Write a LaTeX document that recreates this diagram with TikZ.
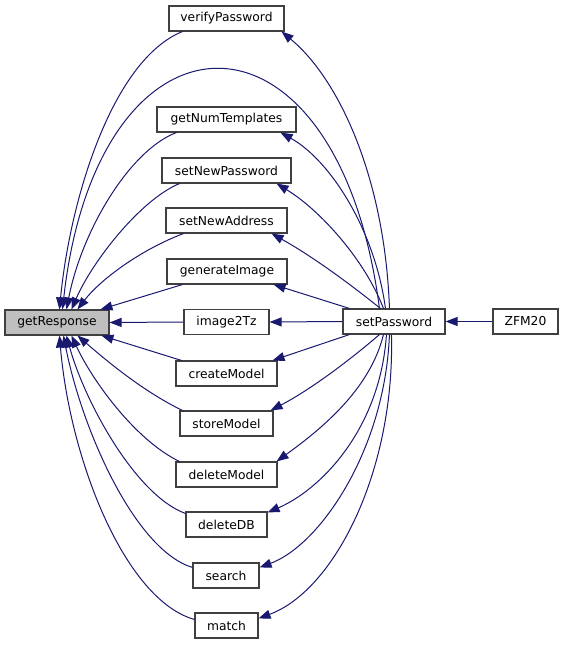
\documentclass[tikz,border=0pt]{standalone}
\usepackage{fontspec}
\setmainfont{DejaVu Sans}
\usetikzlibrary{arrows.meta,calc}
\definecolor{edgeblue}{HTML}{191970}
\definecolor{boxgray}{HTML}{BFBFBF}
\begin{document}
\begin{tikzpicture}[x=1pt,y=-1pt,
  fn/.style={draw=black!75, line width=1.1pt, fill=white, minimum height=25pt, inner sep=0pt,
             font=\fontsize{12.3}{14}\selectfont},
  call/.style={draw=edgeblue, line width=1pt, -{Triangle[length=12pt,width=9pt]}}]
\useasboundingbox (0,0) rectangle (565,645);

% nodes
\node[fn, fill=boxgray, minimum width=104pt] (gr) at (57,322.5) {getResponse};
\node[fn, minimum width=115pt] (vp)  at (226.5,18.5)  {verifyPassword};
\node[fn, minimum width=139pt] (gnt) at (226.5,119.5) {getNumTemplates};
\node[fn, minimum width=129pt] (snp) at (226.5,170.5) {setNewPassword};
\node[fn, minimum width=121pt] (sna) at (226.5,220.5) {setNewAddress};
\node[fn, minimum width=120pt] (gi)  at (227,271.5)   {generateImage};
\node[fn, minimum width=85pt]  (i2t) at (226.5,322)   {image2Tz};
\node[fn, minimum width=101pt] (cm)  at (226.5,373.5) {createModel};
\node[fn, minimum width=93pt]  (sm)  at (226.5,423.5) {storeModel};
\node[fn, minimum width=101pt] (dm)  at (226.5,474.5) {deleteModel};
\node[fn, minimum width=81pt]  (ddb) at (226.5,524.5) {deleteDB};
\node[fn, minimum width=66pt]  (se)  at (226,575.5)   {search};
\node[fn, minimum width=63pt]  (ma)  at (226.5,625.5) {match};
\node[fn, minimum width=102pt] (sp)  at (394,321.5)   {setPassword};
\node[fn, minimum width=65pt]  (zfm) at (525.5,321.5) {ZFM20};

% callers -> getResponse (upper)
\draw[call] ($(vp.south west)+(14,0)$) .. controls (112,60) and (70,200) .. ($(gr.north west)+(55,0)$);
\draw[call] ($(sp.north west)+(37,0)$) .. controls (338,-12) and (98,-8) .. ($(gr.north west)+(58,0)$);
\draw[call] ($(gnt.south west)+(20,0)$) .. controls (130,150) and (82,230) .. ($(gr.north west)+(62,0)$);
\draw[call] ($(snp.south west)+(18,0)$) .. controls (140,200) and (92,262) .. ($(gr.north west)+(67,0)$);
\draw[call] ($(sna.south west)+(18,0)$) .. controls (140,250) and (100,280) .. ($(gr.north west)+(73,0)$);
\draw[call] ($(gi.south west)+(16,0)$) -- ($(gr.north west)+(96,0)$);
\draw[call] (i2t.west) -- (gr.east);
% callers -> getResponse (lower)
\draw[call] ($(cm.north west)+(6,0)$) -- ($(gr.south west)+(97,0)$);
\draw[call] ($(sm.north west)+(3,0)$) .. controls (140,390) and (100,355) .. ($(gr.south west)+(73,0)$);
\draw[call] ($(dm.north west)+(4,0)$) .. controls (135,440) and (92,380) .. ($(gr.south west)+(67,0)$);
\draw[call] ($(ddb.north west)+(0,2)$) .. controls (135,495) and (84,400) .. ($(gr.south west)+(62,0)$);
\draw[call] ($(se.north west)+(0,5)$) .. controls (135,550) and (82,430) .. ($(gr.south west)+(59,0)$);
\draw[call] ($(ma.north west)+(0,7)$) .. controls (125,600) and (70,460) .. ($(gr.south west)+(55,0)$);

% setPassword -> callees
\draw[call] ($(sp.north west)+(47,0)$) .. controls (385,180) and (340,80) .. ($(vp.south east)+(-3,0)$);
\draw[call] ($(sp.north west)+(43,0)$) .. controls (375,230) and (330,160) .. ($(gnt.south east)+(-16,0)$);
\draw[call] ($(sp.north west)+(41,0)$) .. controls (365,260) and (320,210) .. ($(snp.south east)+(-15,0)$);
\draw[call] ($(sp.north west)+(38,0)$) .. controls (345,280) and (310,255) .. ($(sna.south east)+(-16,0)$);
\draw[call] ($(sp.north west)+(7,0)$) -- ($(gi.south east)+(-14,0)$);
\draw[call] (sp.west) -- (i2t.east);
\draw[call] ($(sp.south west)+(7,0)$) -- ($(cm.north east)+(-5,0)$);
\draw[call] ($(sp.south west)+(37,0)$) .. controls (350,360) and (310,390) .. ($(sm.north east)+(-3,0)$);
\draw[call] ($(sp.south west)+(41,0)$) .. controls (370,390) and (320,430) .. ($(dm.north east)+(-1,0)$);
\draw[call] ($(sp.south west)+(44,0)$) .. controls (380,430) and (320,490) .. ($(ddb.north east)+(0,1)$);
\draw[call] ($(sp.south west)+(47,0)$) .. controls (385,450) and (320,545) .. ($(se.north east)+(0,5)$);
\draw[call] ($(sp.south west)+(49,0)$) .. controls (395,470) and (335,590) .. ($(ma.north east)+(0,6)$);

% ZFM20 -> setPassword
\draw[call] (zfm.west) -- (sp.east);
\end{tikzpicture}
\end{document}
